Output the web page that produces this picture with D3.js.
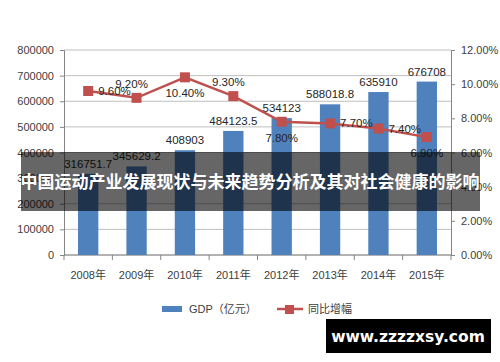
<!DOCTYPE html>
<html><head><meta charset="utf-8">
<script src="https://cdn.jsdelivr.net/npm/d3@7"></script>
<style>body{margin:0;background:#fff}svg{display:block}</style>
</head><body>
<svg id="c" width="500" height="362"></svg>
<script>
const years = ["2008年","2009年","2010年","2011年","2012年","2013年","2014年","2015年"];
const gdp = [316751.7,345629.2,408903,484123.5,534123,588018.8,635910,676708];
const gdpLabels = ["316751.7","345629.2","408903","484123.5","534123","588018.8","635910","676708"];
const growth = [9.6,9.2,10.4,9.3,7.8,7.7,7.4,6.9];
const growthLabels = ["9.60%","9.20%","10.40%","9.30%","7.80%","7.70%","7.40%","6.90%"];
const growthPos = ["right","above","below","above","below","right","right","below"];
const leftTicks = [0,100000,200000,300000,400000,500000,600000,700000,800000];
const rightTicks = [0,2,4,6,8,10,12];
const title = "中国运动产业发展现状与未来趋势分析及其对社会健康的影响";
const watermark = "www.zzzzxsy.com";

const svg = d3.select("#c");
const L=64,R=451,T=50,B=255;
const font = "'Liberation Sans', 'Noto Sans CJK SC', sans-serif";
const x = d3.scaleBand().domain(years).range([L,R]).paddingInner(0.58).paddingOuter(0.29);
const xb = d3.scaleBand().domain(years).range([L,R]);
const y = d3.scaleLinear().domain([0,800000]).range([B,T]);
const y2 = d3.scaleLinear().domain([0,12]).range([B,T]);

// gridlines
svg.append("g").selectAll("line").data(leftTicks).join("line")
  .attr("x1",L).attr("x2",R).attr("y1",d=>y(d)).attr("y2",d=>y(d))
  .attr("stroke","#bfbfbf").attr("stroke-width",1);

// left axis
const la = svg.append("g").attr("transform",`translate(${L},0)`)
  .call(d3.axisLeft(y).tickValues(leftTicks).tickSize(4).tickPadding(6).tickFormat(d3.format("d")));
la.select(".domain").attr("stroke","#868686");
la.selectAll(".tick line").attr("stroke","#868686");
la.selectAll("text").attr("font-family",font).attr("font-size",11).attr("fill","#404040");

// right axis
const ra = svg.append("g").attr("transform",`translate(${R},0)`)
  .call(d3.axisRight(y2).tickValues(rightTicks).tickSize(4).tickPadding(6).tickFormat(d=>d.toFixed(2)+"%"));
ra.select(".domain").attr("stroke","#868686");
ra.selectAll(".tick line").attr("stroke","#868686");
ra.selectAll("text").attr("font-family",font).attr("font-size",11).attr("fill","#404040");

// bottom axis
svg.append("line").attr("x1",L).attr("x2",R).attr("y1",B).attr("y2",B).attr("stroke","#868686");
svg.append("g").selectAll("line").data(years.concat(["end"])).join("line")
  .attr("x1",(d,i)=>L+i*xb.bandwidth()).attr("x2",(d,i)=>L+i*xb.bandwidth())
  .attr("y1",B).attr("y2",B+5).attr("stroke","#868686");
svg.append("g").selectAll("text").data(years).join("text")
  .attr("x",d=>xb(d)+xb.bandwidth()/2).attr("y",B+24).attr("text-anchor","middle")
  .attr("font-family",font).attr("font-size",11).attr("fill","#404040").text(d=>d);

// bars
svg.append("g").selectAll("rect").data(gdp).join("rect")
  .attr("x",(d,i)=>x(years[i])).attr("width",x.bandwidth())
  .attr("y",d=>y(d)).attr("height",d=>B-y(d)).attr("fill","#4f81bd");

// bar labels
svg.append("g").selectAll("text").data(gdp).join("text")
  .attr("x",(d,i)=>x(years[i])+x.bandwidth()/2).attr("y",d=>y(d)-6)
  .attr("text-anchor","middle").attr("font-family",font).attr("font-size",11.5).attr("fill","#262626")
  .text((d,i)=>gdpLabels[i]);

// line
const cx = i=>xb(years[i])+xb.bandwidth()/2;
svg.append("path").datum(growth)
  .attr("d",d3.line().x((d,i)=>cx(i)).y(d=>y2(d)))
  .attr("fill","none").attr("stroke","#c0504d").attr("stroke-width",2.5);
svg.append("g").selectAll("rect").data(growth).join("rect")
  .attr("x",(d,i)=>cx(i)-5).attr("y",d=>y2(d)-5).attr("width",10).attr("height",10)
  .attr("fill","#c0504d");

// line labels
svg.append("g").selectAll("text").data(growth).join("text")
  .attr("x",(d,i)=>growthPos[i]==="right"? cx(i)+10 : growthPos[i]==="above"? cx(i)-5 : cx(i))
  .attr("y",(d,i)=>growthPos[i]==="above"? y2(d)-10 : growthPos[i]==="below"? y2(d)+20 : y2(d)+4)
  .attr("text-anchor",(d,i)=>growthPos[i]==="right"?"start":"middle")
  .attr("font-family",font).attr("font-size",11.5).attr("fill","#262626")
  .text((d,i)=>growthLabels[i]);

// legend
svg.append("rect").attr("x",162).attr("y",306).attr("width",20).attr("height",6).attr("fill","#4f81bd");
svg.append("text").attr("x",189).attr("y",313).attr("font-family",font).attr("font-size",11).attr("fill","#404040").text("GDP（亿元）");
svg.append("line").attr("x1",277).attr("x2",303).attr("y1",309).attr("y2",309).attr("stroke","#c0504d").attr("stroke-width",2.5);
svg.append("rect").attr("x",285).attr("y",305).attr("width",9).attr("height",9).attr("fill","#c0504d");
svg.append("text").attr("x",308).attr("y",313).attr("font-family",font).attr("font-size",11).attr("fill","#404040").text("同比增幅");

// overlay band with title
svg.append("rect").attr("x",21).attr("y",152).attr("width",459).attr("height",59).attr("fill","#000").attr("opacity",0.6);
svg.append("text").attr("x",250).attr("y",188).attr("text-anchor","middle")
  .attr("font-family","'Noto Sans CJK SC', sans-serif").attr("font-weight","bold").attr("font-size",17).attr("fill","#fff").text(title);

// watermark
svg.append("rect").attr("x",326).attr("y",319).attr("width",165).attr("height",34).attr("fill","#000");
svg.append("text").attr("x",408).attr("y",342).attr("text-anchor","middle")
  .attr("font-family","'DejaVu Sans', sans-serif").attr("font-weight","bold").attr("font-size",15.5).attr("fill","#fff").text(watermark);
</script>
</body></html>
